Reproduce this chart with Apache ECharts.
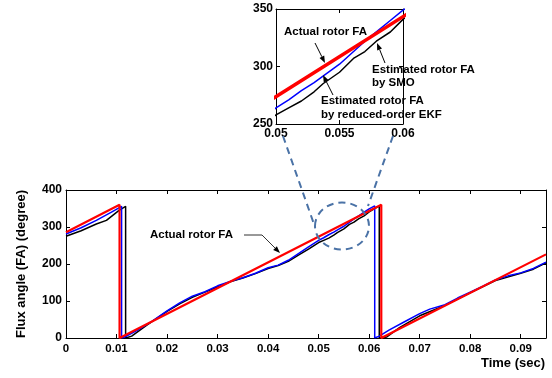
<!DOCTYPE html>
<html>
<head>
<meta charset="utf-8">
<script src="https://cdn.jsdelivr.net/npm/echarts@6/dist/echarts.min.js"></script>
<style>
  html, body { margin: 0; padding: 0; background: #fff; }
  #chart { width: 552px; height: 378px; }
</style>
</head>
<body>
<div id="chart"></div>
<script>
// actual rotor flux angle (red)
const actualTime = [0, 0.0106, 0.0106, 0.0624, 0.0624, 0.095]
const actualAngle = [286, 360, 0, 360, 0, 226]

// estimated by SMO (blue)
const smoTime = [0, 0.003, 0.006, 0.009, 0.011, 0.011, 0.0115, 0.014, 0.017, 0.02, 0.0225, 0.025, 0.0275, 0.03,
    0.0325, 0.035, 0.0375, 0.04, 0.042, 0.044, 0.046, 0.048, 0.05, 0.051, 0.052, 0.053, 0.054, 0.055, 0.056,
    0.057, 0.058, 0.059, 0.06, 0.0611, 0.0611, 0.062, 0.064, 0.067, 0.07, 0.072, 0.075, 0.0775, 0.08, 0.0825,
    0.085, 0.0875, 0.09, 0.0925, 0.095]
const smoAngle = [281, 298, 318, 340, 356, 0, 2, 20, 45, 73, 95, 113, 125, 141,
    153, 163, 175, 190, 197, 210, 228, 246, 264, 271, 279, 286, 294, 302, 312,
    322, 331, 340, 349, 357, 0, 5, 22, 44, 66, 78, 90, 108, 124, 140,
    157, 168, 176, 188, 205]

// estimated by reduced-order EKF (black)
const ekfTime = [0, 0.003, 0.006, 0.008, 0.0105, 0.0118, 0.0118, 0.013, 0.016, 0.02, 0.0225, 0.025, 0.0275,
    0.03, 0.0325, 0.035, 0.0375, 0.04, 0.042, 0.044, 0.046, 0.048, 0.05, 0.051, 0.052, 0.053, 0.0537, 0.055,
    0.0561, 0.057, 0.0579, 0.059, 0.06, 0.062, 0.062, 0.0635, 0.066, 0.07, 0.075, 0.08, 0.085, 0.09, 0.0925, 0.095]
const ekfAngle = [275, 290, 308, 318, 345, 356, 0, 5, 35, 72, 92, 110, 124,
    138, 152, 162, 174, 188, 196, 207, 224, 240, 258, 264, 270, 278, 285, 295,
    307, 313, 322, 330, 341, 357, 0, 3, 28, 60, 88, 122, 155, 175, 186, 203]

const timeTicks = ['0', '0.01', '0.02', '0.03', '0.04', '0.05', '0.06', '0.07', '0.08', '0.09']

const FONT = '"Liberation Sans", Arial, sans-serif'

function pairs(xs, ys) {
    return xs.map((x, i) => [x, ys[i]])
}

const chart = echarts.init(document.getElementById('chart'))

const xLabelStyle = { color: '#000', fontFamily: FONT, fontWeight: 'bold', fontSize: 11.5 }
const yLabelStyle = { color: '#000', fontFamily: FONT, fontWeight: 'bold', fontSize: 12 }
const insetLabelStyle = { color: '#000', fontFamily: FONT, fontWeight: 'bold', fontSize: 12 }

function boxAxis(extra) {
    return Object.assign({
        type: 'value',
        axisLine: { show: true, onZero: false, lineStyle: { color: '#000', width: 1 } },
        axisTick: { show: true, inside: true, length: 4, lineStyle: { color: '#000' } },
        splitLine: { show: false },
    }, extra)
}

function seriesFor(grid) {
    const xi = grid === 0 ? 0 : 2
    const yi = grid === 0 ? 0 : 2
    return [
        {
            name: 'EKF', type: 'line', xAxisIndex: xi, yAxisIndex: yi, showSymbol: false, animation: false,
            data: pairs(ekfTime, ekfAngle), lineStyle: { color: '#000', width: 1.5 },
        },
        {
            name: 'SMO', type: 'line', xAxisIndex: xi, yAxisIndex: yi, showSymbol: false, animation: false,
            data: pairs(smoTime, smoAngle), lineStyle: { color: '#0000ff', width: 1.5 },
        },
        {
            name: 'Actual', type: 'line', xAxisIndex: xi, yAxisIndex: yi, showSymbol: false, animation: false,
            data: pairs(actualTime, actualAngle), lineStyle: { color: '#ff0000', width: grid === 0 ? 2.2 : 3.5 },
        },
    ]
}

function arrow(x1, y1, x2, y2, color) {
    const a = Math.atan2(y2 - y1, x2 - x1)
    const len = 7, half = 2.6
    const bx = x2 - len * Math.cos(a), by = y2 - len * Math.sin(a)
    return [
        { type: 'line', z: 50, shape: { x1: x1, y1: y1, x2: bx, y2: by }, style: { stroke: color, lineWidth: 1 } },
        {
            type: 'polygon', z: 50,
            shape: { points: [[x2, y2], [bx + half * Math.sin(a), by - half * Math.cos(a)], [bx - half * Math.sin(a), by + half * Math.cos(a)]] },
            style: { fill: '#000' },
        },
    ]
}

function label(text, x, y) {
    return {
        type: 'text', z: 40, x: x, y: y,
        style: { text: text, font: 'bold 11.5px ' + FONT, fill: '#000', verticalAlign: 'middle', align: 'left' },
    }
}

const dashColor = '#4a72a6'

const option = {
    animation: false,
    grid: [
        { left: 66, right: 6, top: 190, bottom: 40 },
        { left: 276, width: 127, top: 9, height: 115 },
    ],
    xAxis: [
        boxAxis({
            gridIndex: 0, min: 0, max: 0.095, interval: 0.01,
            axisLabel: Object.assign({ margin: 5, showMaxLabel: false, formatter: (v) => timeTicks[Math.round(v * 100)] || '' }, xLabelStyle),
        }),
        boxAxis({ gridIndex: 0, position: 'top', min: 0, max: 0.095, interval: 0.01, axisLabel: { show: false } }),
        boxAxis({
            gridIndex: 1, min: 0.05, max: 0.06, interval: 0.005,
            axisLabel: Object.assign({ margin: 4, formatter: (v) => String(+v.toFixed(3)) }, insetLabelStyle),
        }),
        boxAxis({ gridIndex: 1, position: 'top', min: 0.05, max: 0.06, interval: 0.005, axisLabel: { show: false } }),
    ],
    yAxis: [
        boxAxis({
            gridIndex: 0, min: 0, max: 400, interval: 100,
            axisLabel: Object.assign({ margin: 4 }, yLabelStyle),
            name: 'Flux angle (FA) (degree)', nameLocation: 'middle', nameGap: 38,
            nameTextStyle: { color: '#000', fontFamily: FONT, fontWeight: 'bold', fontSize: 13 },
        }),
        boxAxis({ gridIndex: 0, position: 'right', min: 0, max: 400, interval: 100, axisLabel: { show: false } }),
        boxAxis({
            gridIndex: 1, min: 250, max: 350, interval: 50,
            axisLabel: Object.assign({ margin: 3 }, insetLabelStyle),
        }),
        boxAxis({ gridIndex: 1, position: 'right', min: 250, max: 350, interval: 50, axisLabel: { show: false } }),
    ],
    series: seriesFor(0).concat(seriesFor(1)),
    graphic: [
        {
            type: 'text', right: 7, top: 357,
            style: { text: 'Time (sec)', font: 'bold 13px ' + FONT, fill: '#000' },
        },
        // zoom ellipse and guide lines
        {
            type: 'ellipse', z: 30, shape: { cx: 342, cy: 226, rx: 27, ry: 23.5 },
            style: { fill: 'none', stroke: dashColor, lineWidth: 2, lineDash: [7, 5] },
        },
        {
            type: 'line', z: 30, shape: { x1: 283, y1: 136, x2: 315, y2: 227 },
            style: { stroke: dashColor, lineWidth: 2, lineDash: [7, 5] },
        },
        {
            type: 'line', z: 30, shape: { x1: 393, y1: 136, x2: 368, y2: 206 },
            style: { stroke: dashColor, lineWidth: 2, lineDash: [7, 5] },
        },
        // main chart annotation
        label('Actual rotor FA', 150, 235),
        { type: 'line', z: 50, shape: { x1: 244, y1: 235, x2: 262, y2: 235 }, style: { stroke: '#333', lineWidth: 1 } },
        ...arrow(262, 235, 280, 253, '#333'),
        // inset annotations
        label('Actual rotor FA', 284, 32),
        ...arrow(315, 43, 325, 63, '#000'),
        label('Estimated rotor FA', 372, 70),
        label('by SMO', 372, 83),
        ...arrow(385, 63, 377, 43, '#000'),
        label('Estimated rotor FA', 321, 101),
        label('by reduced-order EKF', 321, 115),
        ...arrow(333, 95, 323, 75, '#000'),
    ],
}

chart.setOption(option)
</script>
</body>
</html>
